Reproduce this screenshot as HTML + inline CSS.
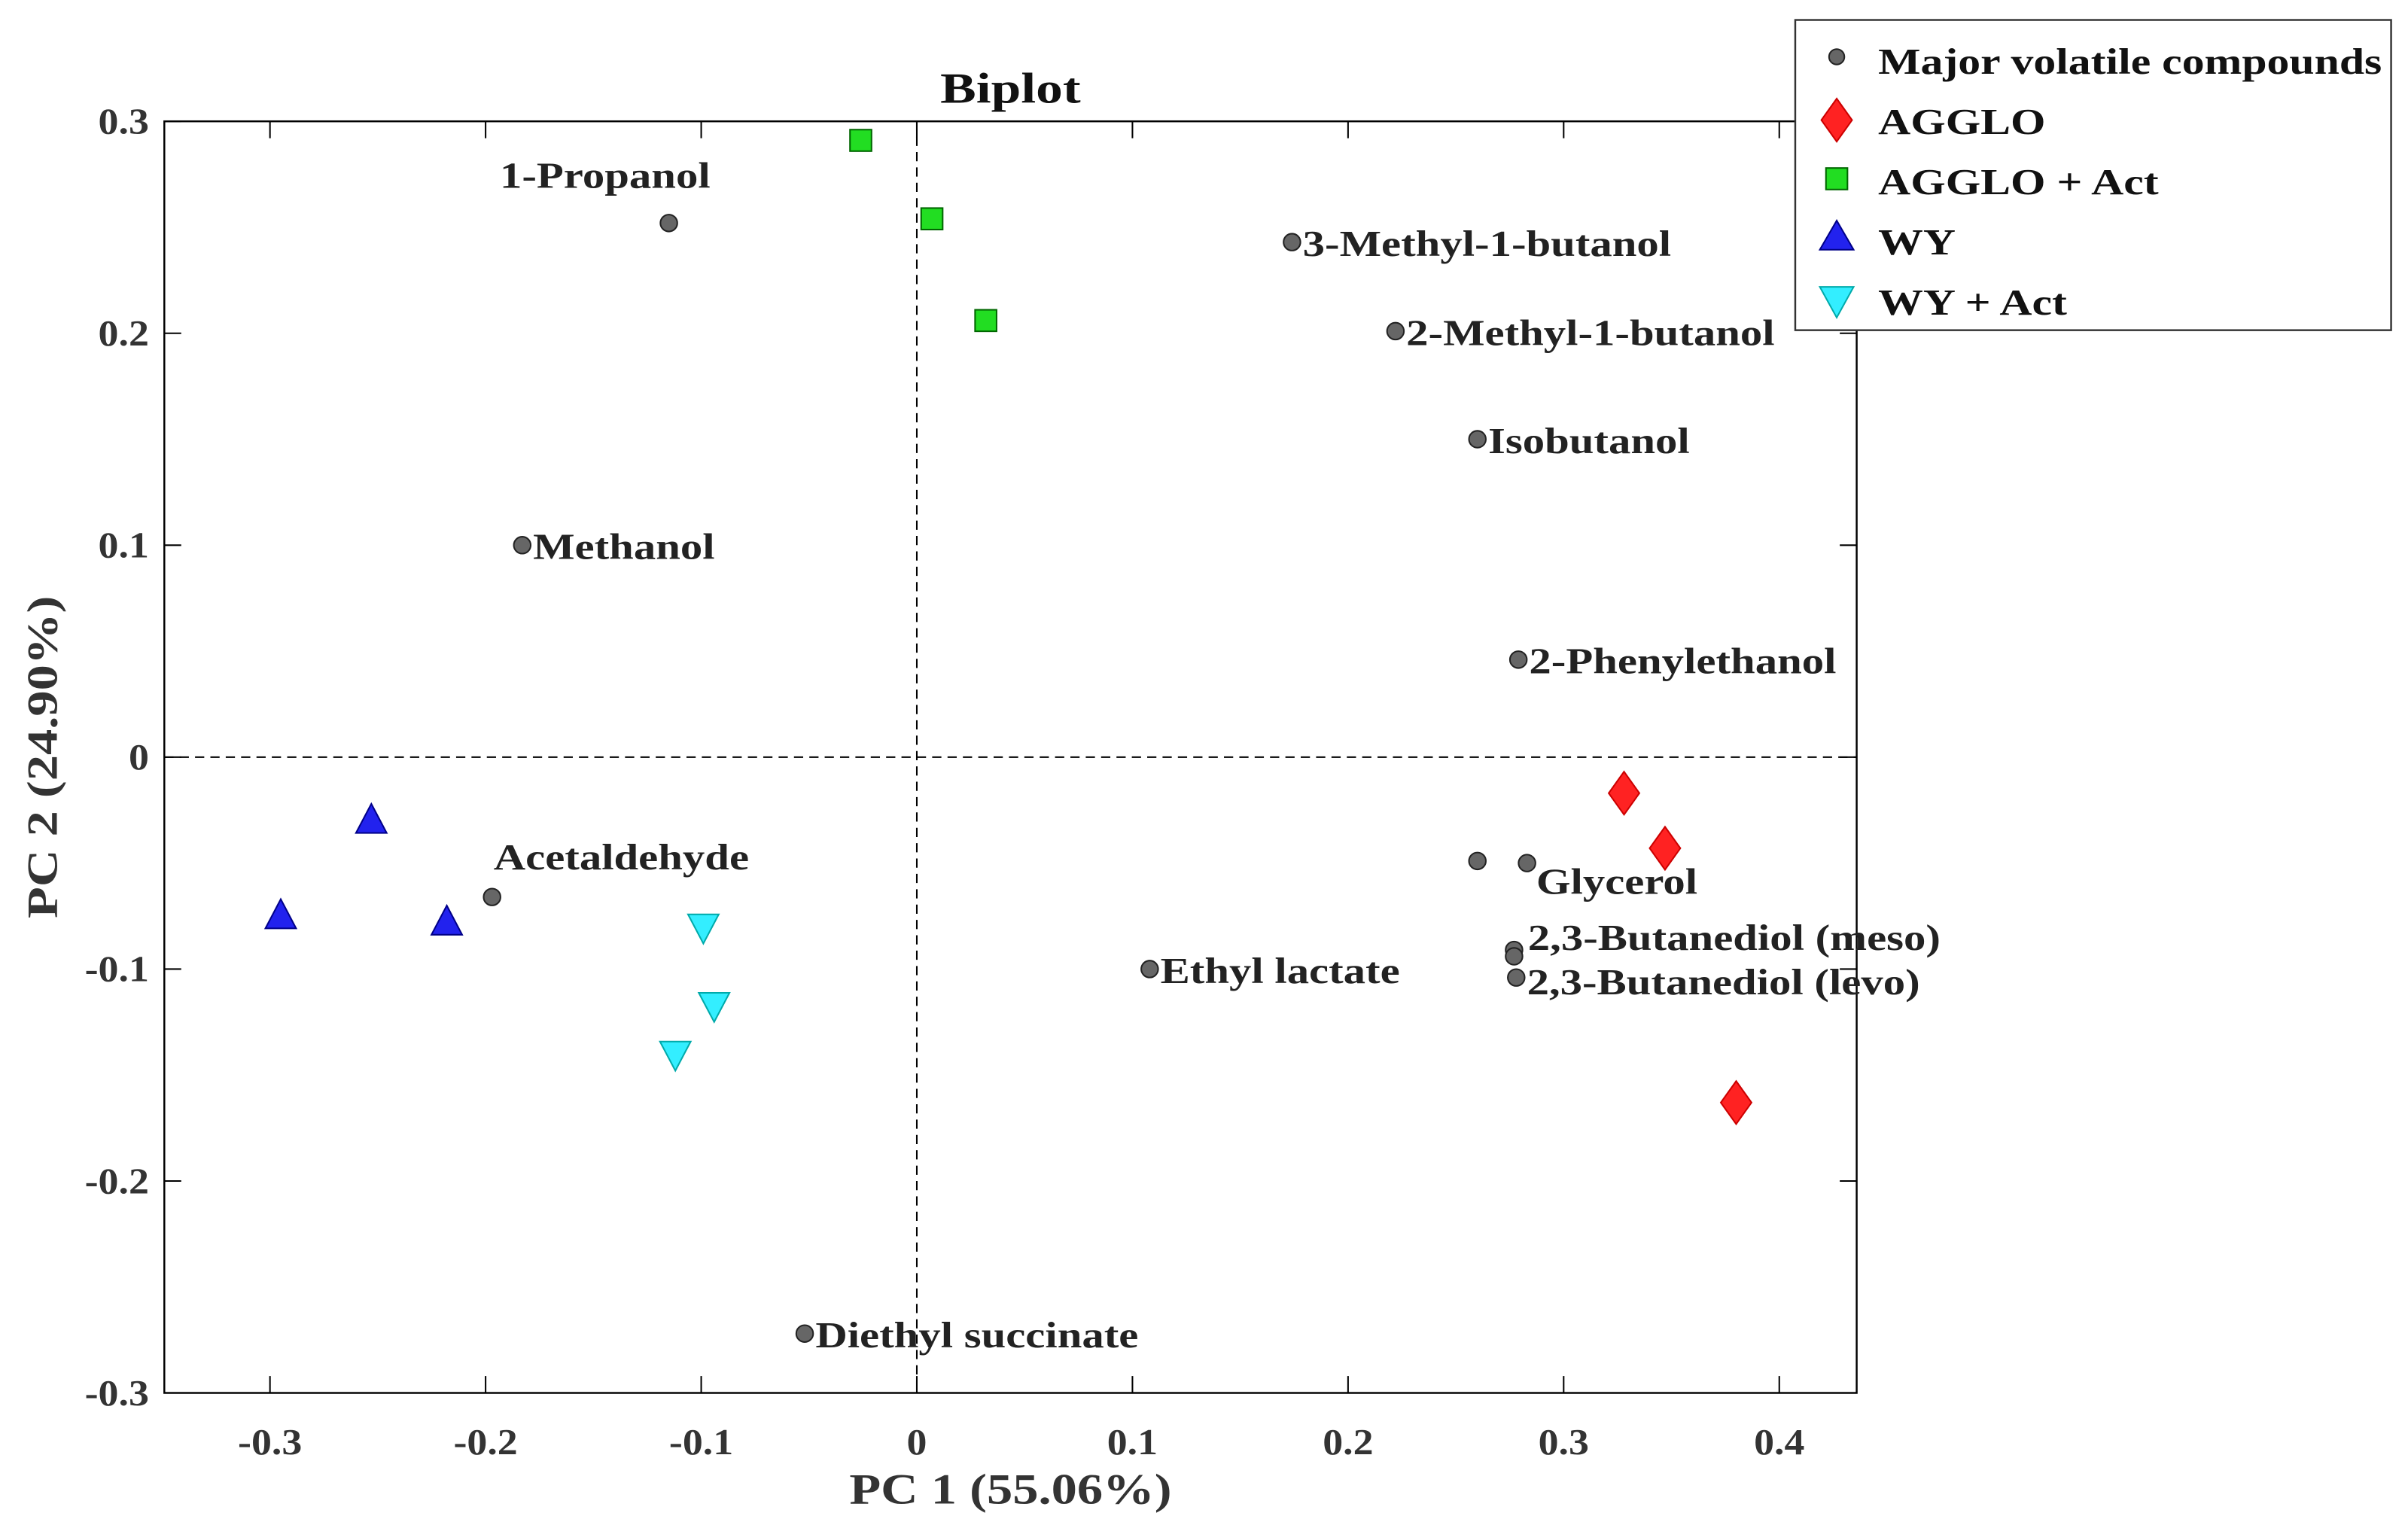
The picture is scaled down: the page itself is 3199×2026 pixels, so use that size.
<!DOCTYPE html>
<html><head><meta charset="utf-8"><style>
html,body{margin:0;padding:0;background:#fff;}
svg{display:block;font-family:"Liberation Serif",serif;font-weight:bold;}
</style></head><body>
<svg id="chart" width="3199" height="2026" viewBox="0 0 1568 993" preserveAspectRatio="none" xmlns="http://www.w3.org/2000/svg">
<rect width="1568" height="993" fill="#fff"/>
</svg>
<script>
const xTicks=[-0.3,-0.2,-0.1,0,0.1,0.2,0.3,0.4];
const xTickLabels=["-0.3","-0.2","-0.1","0","0.1","0.2","0.3","0.4"];
const yTicks=[-0.3,-0.2,-0.1,0,0.1,0.2,0.3];
const yTickLabels=["-0.3","-0.2","-0.1","0","0.1","0.2","0.3"];
const compoundNames=["1-Propanol","3-Methyl-1-butanol","2-Methyl-1-butanol","Isobutanol","Methanol","2-Phenylethanol","Glycerol","","Acetaldehyde","2,3-Butanediol (meso)","","2,3-Butanediol (levo)","Ethyl lactate","Diethyl succinate"];
const compoundX=[-0.115,0.174,0.222,0.260,-0.183,0.279,0.283,0.260,-0.197,0.277,0.277,0.278,0.108,-0.052];
const compoundY=[0.252,0.243,0.201,0.150,0.100,0.046,-0.050,-0.049,-0.066,-0.091,-0.094,-0.104,-0.100,-0.272];
const aggloX=[0.328,0.347,0.380];
const aggloY=[-0.017,-0.043,-0.163];
const aggloActX=[-0.026,0.007,0.032];
const aggloActY=[0.291,0.254,0.206];
const wyX=[-0.253,-0.295,-0.218];
const wyY=[-0.030,-0.075,-0.078];
const wyActX=[-0.099,-0.094,-0.112];
const wyActY=[-0.080,-0.117,-0.140];

const L=107,R=1209,T=79,B=907;
function sx(v){return 597+v*1404;}
function sy(v){return 493-v*1380;}
const NS="http://www.w3.org/2000/svg";
const svg=document.getElementById('chart');
function mk(tag,attrs,parent){const e=document.createElementNS(NS,tag);for(const k in attrs)e.setAttribute(k,attrs[k]);(parent||svg).appendChild(e);return e;}
function widen(t,f){const w=t.getComputedTextLength();t.setAttribute('textLength',(w*f).toFixed(1));t.setAttribute('lengthAdjust','spacingAndGlyphs');}

let box=mk('rect',{x:L,y:T,width:R-L,height:B-T,fill:'none',stroke:'#000','stroke-width':1.2});


let zl=mk('line',{x1:L,x2:R,y1:sy(0),y2:sy(0),stroke:'#000','stroke-width':1,'stroke-dasharray':'6,4'});


let zv=mk('line',{x1:sx(0),x2:sx(0),y1:T,y2:B,stroke:'#000','stroke-width':1,'stroke-dasharray':'6,4'});



xTicks.forEach((v,i)=>{const x=sx(v);
 mk('line',{x1:x,x2:x,y1:B,y2:B-11,stroke:'#000','stroke-width':1});
 mk('line',{x1:x,x2:x,y1:T,y2:T+11,stroke:'#000','stroke-width':1});
 const t=mk('text',{x:x,y:B+40,'text-anchor':'middle','font-size':24,fill:'#333'});t.textContent=xTickLabels[i];
 
 
 widen(t,1.1);
});
yTicks.forEach((v,i)=>{const y=sy(v);
 mk('line',{x1:L,x2:L+11,y1:y,y2:y,stroke:'#000','stroke-width':1});
 mk('line',{x1:R,x2:R-11,y1:y,y2:y,stroke:'#000','stroke-width':1});
 const t=mk('text',{x:L-10,y:y+8,'text-anchor':'end','font-size':24,fill:'#333'});t.textContent=yTickLabels[i];
 
 
 widen(t,1.1);
});
let title=mk('text',{x:658,y:67,'text-anchor':'middle','font-size':28,fill:'#111'});title.textContent='Biplot';


widen(title,1.25);
let xl=mk('text',{x:658,y:979,'text-anchor':'middle','font-size':28,fill:'#333'});xl.textContent='PC 1 (55.06%)';


widen(xl,1.2);
let yl=mk('text',{x:0,y:0,'text-anchor':'middle','font-size':28,fill:'#333',transform:'translate(37,493) rotate(-90)'});yl.textContent='PC 2 (24.90%)';


widen(yl,1.2);

compoundX.forEach((v,i)=>{const x=sx(v),y=sy(compoundY[i]);
 const c=mk('circle',{cx:x,cy:y,r:5.5,fill:'#666',stroke:'#222','stroke-width':1});
 
 
 const n=compoundNames[i]; if(!n)return;
 let a={x:x+7,y:y+9,'text-anchor':'start'};
 if(n==='1-Propanol')a={x:x+27,y:y-23,'text-anchor':'end'};
 if(n==='Acetaldehyde')a={x:x+1,y:y-18,'text-anchor':'start'};
 if(n==='Glycerol')a={x:x+6,y:y+20,'text-anchor':'start'};
 if(n==='2,3-Butanediol (meso)')a={x:x+9,y:y,'text-anchor':'start'};
 if(n==='2,3-Butanediol (levo)')a={x:x+7,y:y+11,'text-anchor':'start'};
 a['font-size']=24;a.fill='#222';
 const t=mk('text',a);t.textContent=n;
 
 
 widen(t,1.2);
});
aggloX.forEach((v,i)=>{const x=sx(v),y=sy(aggloY[i]);
 const p=mk('polygon',{points:`${x},${y-14} ${x+10},${y} ${x},${y+14} ${x-10},${y}`,fill:'#f22',stroke:'#c00','stroke-width':1});
 
 
});
aggloActX.forEach((v,i)=>{const x=sx(v),y=sy(aggloActY[i]);
 const p=mk('rect',{x:x-7,y:y-7,width:14,height:14,fill:'#2d2',stroke:'#060','stroke-width':1});
 
 
});
wyX.forEach((v,i)=>{const x=sx(v),y=sy(wyY[i]);
 const p=mk('polygon',{points:`${x},${y-11} ${x+10},${y+8} ${x-10},${y+8}`,fill:'#22e',stroke:'#008','stroke-width':1});
 
 
});
wyActX.forEach((v,i)=>{const x=sx(v),y=sy(wyActY[i]);
 const p=mk('polygon',{points:`${x},${y+11} ${x+10},${y-8} ${x-10},${y-8}`,fill:'#3ef',stroke:'#0aa','stroke-width':1});
 
 
});

const lg=mk('g',{});


mk('rect',{x:1169,y:13,width:388,height:202,fill:'#fff',stroke:'#333','stroke-width':1.2},lg);
const legendNames=["Major volatile compounds","AGGLO","AGGLO + Act","WY","WY + Act"];
legendNames.forEach((n,i)=>{const y=39+i*39.2,x=1196;
 let m;
 if(i===0)m=mk('circle',{cx:x,cy:y-2,r:5,fill:'#666',stroke:'#222'},lg);
 if(i===1)m=mk('polygon',{points:`${x},${y-14} ${x+10},${y} ${x},${y+14} ${x-10},${y}`,fill:'#f22',stroke:'#c00'},lg);
 if(i===2)m=mk('rect',{x:x-7,y:y-8,width:14,height:14,fill:'#2d2',stroke:'#060'},lg);
 if(i===3)m=mk('polygon',{points:`${x},${y-13} ${x+11},${y+6} ${x-11},${y+6}`,fill:'#22e',stroke:'#008'},lg);
 if(i===4)m=mk('polygon',{points:`${x},${y+11} ${x+11},${y-9} ${x-11},${y-9}`,fill:'#3ef',stroke:'#0aa'},lg);
 
 
 const t=mk('text',{x:1223,y:y+9,'font-size':24,fill:'#111'},lg);t.textContent=n;
 
 
 widen(t,1.22);
});
</script>
</body></html>
